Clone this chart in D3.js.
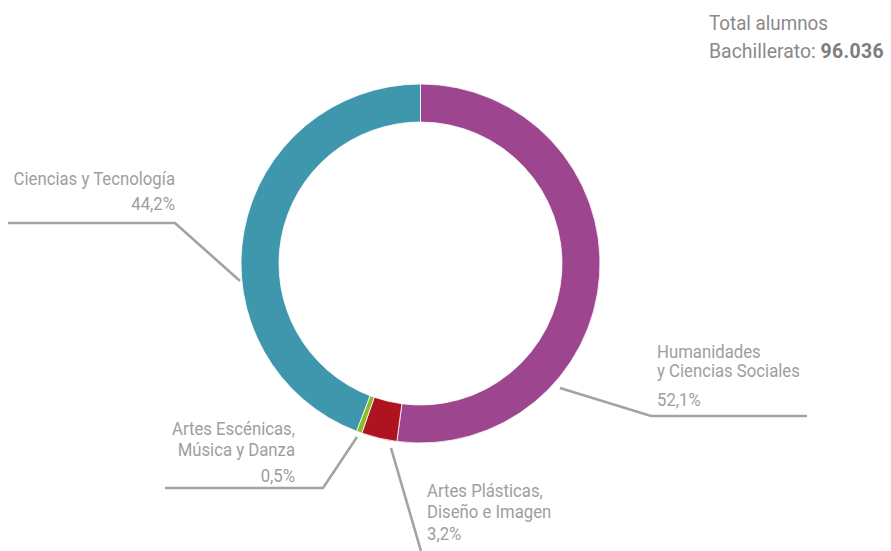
<!DOCTYPE html>
<html><head><meta charset="utf-8">
<script src="https://cdn.jsdelivr.net/npm/d3@7"></script>
<style>
html,body{margin:0;padding:0;background:#fff;}
text{font-family:"Roboto","Liberation Sans",sans-serif;}
</style></head>
<body><svg id="c" width="891" height="551"></svg>
<script>
const categories = ["Humanidades y Ciencias Sociales","Artes Plásticas, Diseño e Imagen","Artes Escénicas, Música y Danza","Ciencias y Tecnología"];
const values = [52.1, 3.2, 0.5, 44.2];
const valueLabels = ["52,1%","3,2%","0,5%","44,2%"];
const labelLines = [["Humanidades","y Ciencias Sociales"],["Artes Plásticas,","Diseño e Imagen"],["Artes Escénicas,","Música y Danza"],["Ciencias y Tecnología"]];
const colors = ["#9d458f","#ad141f","#8cbd24","#3f97ae"];
const totalLabel = ["Total alumnos","Bachillerato: "];
const totalValue = "96.036";

// layout (annotation geometry, not data)
const cx = 420.5, cy = 263.5, R = 179.5, r = 141.5;
const layout = [
  {line:[[560,388],[651,416],[807,416]], x:657, anchor:"start", ys:[358,377], vy:406},
  {line:[[391,448],[421,551]], x:427, anchor:"start", ys:[497,518], vy:540},
  {line:[[357,437],[323,488],[165,488]], x:295, anchor:"end", ys:[435,456], vy:482},
  {line:[[240,281],[175,223],[8,223]], x:175, anchor:"end", ys:[185], vy:210}
];

const svg = d3.select("#c");
const g = svg.append("g").attr("transform",`translate(${cx},${cy})`);
const pie = d3.pie().sort(null).value(d=>d).startAngle(0).endAngle(2*Math.PI);
const arc = d3.arc().innerRadius(r).outerRadius(R);
g.selectAll("path").data(pie(values)).join("path")
  .attr("d",arc).attr("fill",(d,i)=>colors[i])
  .attr("stroke","#fff").attr("stroke-width",0.8);

function addText(x,y,anchor,size,sx,fill){
  return svg.append("g").attr("transform",`translate(${x},${y}) scale(${sx},1)`)
    .append("text").attr("text-anchor",anchor).attr("font-size",size).attr("fill",fill);
}

const line = d3.line();
const txt = "#9e9e9e";
layout.forEach((L,i)=>{
  svg.append("path").attr("d",line(L.line)).attr("fill","none")
    .attr("stroke","#a3a3a3").attr("stroke-width",2.6);
  labelLines[i].forEach((s,j)=>{
    addText(L.x,L.ys[j],L.anchor,18,0.93,txt).text(s);
  });
  addText(L.x,L.vy,L.anchor,18,0.93,txt).text(valueLabels[i]);
});

addText(709,30,"start",21,0.895,"#8a8a8a").text(totalLabel[0]);
const t2 = addText(709,58,"start",21,0.925,"#8a8a8a");
t2.append("tspan").text(totalLabel[1]);
t2.append("tspan").attr("font-weight","bold").attr("fill","#7d7d7d").attr("letter-spacing",0.4).text(totalValue);
</script></body></html>
